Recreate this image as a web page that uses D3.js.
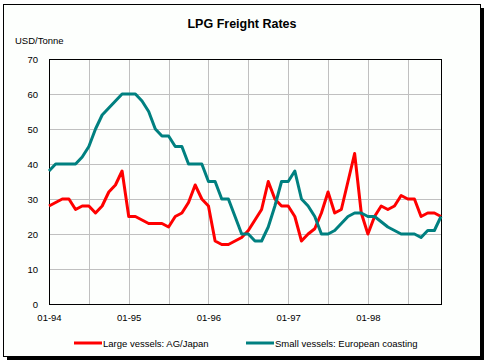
<!DOCTYPE html>
<html>
<head>
<meta charset="utf-8">
<script src="https://cdn.jsdelivr.net/npm/d3@7"></script>
<style>
  body { margin: 0; background: #ffffff; }
  svg text { font-family: "Liberation Sans", Arial, sans-serif; fill: #000; }
</style>
</head>
<body>
<div id="chart"></div>
<script>
// Monthly data, Jan 1994 - Dec 1998
var years = ['94', '95', '96', '97', '98'];
var xTickLabels = ['01-94', '01-95', '01-96', '01-97', '01-98'];
var yTicks = [0, 10, 20, 30, 40, 50, 60, 70];

var largeVessels = [28, 29, 30, 30, 27, 28, 28, 26, 28, 32,
                    34, 38, 25, 25, 24, 23, 23, 23, 22, 25,
                    26, 29, 34, 30, 28, 18, 17, 17, 18, 19,
                    21, 24, 27, 35, 30, 28, 28, 25, 18, 20,
                    21.5, 26, 32, 26, 27, 35, 43, 26, 20, 25,
                    28, 27, 28, 31, 30, 30, 25, 26, 26, 25];

var smallVessels = [38, 40, 40, 40, 40, 42, 45, 50, 54, 56,
                    58, 60, 60, 60, 58, 55, 50, 48, 48, 45,
                    45, 40, 40, 40, 35, 35, 30, 30, 25, 20,
                    20, 18, 18, 22, 28, 35, 35, 38, 30, 28,
                    25, 20, 20, 21, 23, 25, 26, 26, 25, 25,
                    23.5, 22, 21, 20, 20, 20, 19, 21, 21, 25];

var seriesNames = ['Large vessels: AG/Japan', 'Small vessels: European coasting'];
var seriesColors = ['#ff0000', '#008080'];

// month categories like 01-94, 02-94 ...
var months = [];
years.forEach(function (y) {
    for (var m = 1; m <= 12; m++) {
        months.push((m < 10 ? '0' + m : '' + m) + '-' + y);
    }
});

var width = 486, height = 363;
var plotLeft = 49, plotRight = 441, plotTop = 59, plotBottom = 304;

var svg = d3.select('#chart')
    .append('svg')
    .attr('width', width)
    .attr('height', height);

// frame with drop shadow
svg.append('rect')
    .attr('x', 7).attr('y', 8)
    .attr('width', 477).attr('height', 352)
    .attr('fill', '#000');
svg.append('rect')
    .attr('x', 3.5).attr('y', 4.5)
    .attr('width', 477).attr('height', 352)
    .attr('fill', '#fdfffd')
    .attr('stroke', '#000');

var x = d3.scalePoint()
    .domain(months)
    .range([plotLeft, plotRight]);

var y = d3.scaleLinear()
    .domain([0, 70])
    .range([plotBottom, plotTop]);

// gridlines
var gridMonths = months.filter(function (d, i) { return i % 6 === 0 && i > 0; });
svg.append('g')
    .attr('transform', 'translate(0,' + plotTop + ')')
    .call(d3.axisBottom(x).tickValues(gridMonths).tickSize(plotBottom - plotTop).tickFormat(''))
    .call(function (g) {
        g.select('.domain').remove();
        g.selectAll('line').attr('stroke', '#c0c0c0').attr('shape-rendering', 'crispEdges');
    });

svg.append('g')
    .attr('transform', 'translate(' + plotLeft + ',0)')
    .call(d3.axisRight(y).tickValues(yTicks.slice(1, -1)).tickSize(plotRight - plotLeft).tickFormat(''))
    .call(function (g) {
        g.select('.domain').remove();
        g.selectAll('line').attr('stroke', '#c0c0c0').attr('shape-rendering', 'crispEdges');
    });

// plot border
svg.append('rect')
    .attr('x', plotLeft).attr('y', plotTop)
    .attr('width', plotRight - plotLeft).attr('height', plotBottom - plotTop)
    .attr('fill', 'none')
    .attr('stroke', '#000')
    .attr('shape-rendering', 'crispEdges');

// y axis labels
svg.append('g')
    .attr('transform', 'translate(' + plotLeft + ',0)')
    .call(d3.axisLeft(y).tickValues(yTicks).tickSize(0).tickPadding(11))
    .call(function (g) {
        g.select('.domain').remove();
        g.selectAll('text').attr('font-size', '9.5px').style('font-family', '"Liberation Sans", Arial, sans-serif');
    });

// x axis labels
var labelMonths = months.filter(function (d, i) { return i % 12 === 0; });
svg.append('g')
    .attr('transform', 'translate(0,' + plotBottom + ')')
    .call(d3.axisBottom(x).tickValues(labelMonths).tickSize(0).tickPadding(10)
        .tickFormat(function (d, i) { return xTickLabels[i]; }))
    .call(function (g) {
        g.select('.domain').remove();
        g.selectAll('text').attr('font-size', '9.5px').style('font-family', '"Liberation Sans", Arial, sans-serif');
    });

// lines
var line = d3.line()
    .x(function (d, i) { return x(months[i]); })
    .y(function (d) { return y(d); });

[largeVessels, smallVessels].forEach(function (s, k) {
    svg.append('path')
        .datum(s)
        .attr('d', line)
        .attr('fill', 'none')
        .attr('stroke', seriesColors[k])
        .attr('stroke-width', 3)
        .attr('stroke-linejoin', 'round');
});

// titles
svg.append('text')
    .attr('x', 242).attr('y', 28)
    .attr('text-anchor', 'middle')
    .attr('font-size', '12.5px')
    .attr('font-weight', 'bold')
    .text('LPG Freight Rates');

svg.append('text')
    .attr('x', 15).attr('y', 44)
    .attr('font-size', '9.5px')
    .text('USD/Tonne');

// legend
var legendX = [74, 246];
var legend = svg.selectAll('.legend')
    .data(seriesNames)
    .enter()
    .append('g')
    .attr('class', 'legend')
    .attr('transform', function (d, i) { return 'translate(' + legendX[i] + ',343)'; });

legend.append('line')
    .attr('x1', 0).attr('x2', 28)
    .attr('y1', 0).attr('y2', 0)
    .attr('stroke', function (d, i) { return seriesColors[i]; })
    .attr('stroke-width', 3);

legend.append('text')
    .attr('x', 29).attr('y', 4)
    .attr('font-size', '9.5px')
    .text(function (d) { return d; });
</script>
</body>
</html>
